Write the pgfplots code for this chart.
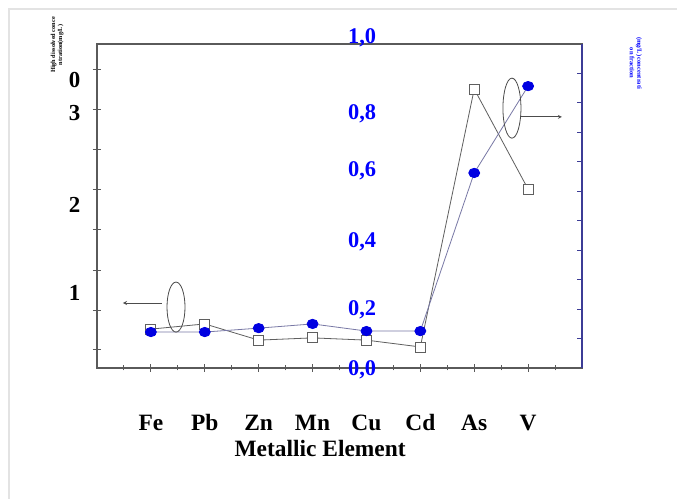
\documentclass[border=0pt]{standalone}
\usepackage{pgfplots}
\pgfplotsset{compat=1.18}
\usepackage{fontspec}
\setmainfont{Liberation Serif}
\definecolor{sqline}{RGB}{95,95,95}
\definecolor{cline}{RGB}{120,120,165}
\definecolor{spine}{RGB}{90,90,90}
\definecolor{rspine}{RGB}{60,60,150}
\definecolor{ptblue}{RGB}{0,0,225}
\definecolor{lblblue}{RGB}{0,0,255}
\tikzset{blbl/.style={text=lblblue, font=\fontsize{22.5}{22}\selectfont\bfseries}}
\begin{document}
\begin{tikzpicture}
\useasboundingbox (0,0) rectangle (677bp,499bp);
\fill[white] (0,0) rectangle (677bp,499bp);
\draw[gray!22, line width=2.5bp] (9bp,0) -- (9bp,490bp) -- (677bp,490bp);
\begin{axis}[
  at={(97bp,131bp)}, anchor=south west,
  scale only axis, width=485bp, height=324bp,
  xmin=0, xmax=9, ymin=0, ymax=1,
  axis line style={spine, line width=1.2bp},
  xtick={1,...,8},
  xticklabels={Fe,Pb,Zn,Mn,Cu,Cd,As,V},
  minor xtick={0.5,1.5,...,8.5},
  xtick pos=bottom,
  ytick={0.0556,0.179,0.302,0.426,0.550,0.673,0.797,0.920},
  yticklabels={},
  ytick pos=left,
  tick align=center,
  major tick length=8bp, minor tick length=5bp,
  tick style={spine, line width=1bp},
  xticklabel style={font=\fontsize{23.5}{22}\selectfont\bfseries, anchor=base, yshift=-59bp},
  clip=false,
]
\addplot[sqline, line width=0.8bp, mark=square*, mark size=5bp,
  mark options={fill=white, draw=sqline, line width=0.8bp, solid}] coordinates {
  (1,0.120) (2,0.136) (3,0.086) (4,0.093) (5,0.086) (6,0.065) (7,0.861) (8,0.552)
};
\node[anchor=east, font=\fontsize{23}{22}\selectfont\bfseries] at (rel axis cs:-0.027,0.889) {0};
\node[anchor=east, font=\fontsize{23}{22}\selectfont\bfseries] at (rel axis cs:-0.027,0.787) {3};
\node[anchor=east, font=\fontsize{23}{22}\selectfont\bfseries] at (rel axis cs:-0.027,0.503) {2};
\node[anchor=east, font=\fontsize{23}{22}\selectfont\bfseries] at (rel axis cs:-0.027,0.231) {1};
\node[rotate=90, align=center, inner sep=0pt, font=\fontsize{6.3}{7}\selectfont\bfseries] at (rel axis cs:-0.082,0.997) {High dissolved conce\\ntration(mg/L)};
\node[font=\fontsize{23.5}{22}\selectfont\bfseries] at (rel axis cs:0.46,-0.247) {Metallic Element};
\end{axis}
\begin{axis}[
  at={(97bp,131bp)}, anchor=south west,
  scale only axis, width=485bp, height=324bp,
  xmin=0, xmax=9, ymin=0, ymax=1,
  axis x line=none, axis y line*=right,
  axis line style={rspine, line width=1.2bp},
  ytick={0.0909,0.1818,0.2727,0.3636,0.4545,0.5454,0.6363,0.7272,0.8181,0.9090},
  yticklabels={},
  tick align=inside, major tick length=5bp,
  tick style={rspine, line width=1bp},
  clip=false,
]
\addplot[cline, line width=0.8bp, mark=*, mark size=5.5bp,
  mark options={fill=ptblue, draw=ptblue, solid, yscale=0.85}] coordinates {
  (1,0.111) (2,0.111) (3,0.123) (4,0.136) (5,0.114) (6,0.114) (7,0.602) (8,0.870)
};
\draw[gray!60!black, line width=0.8bp] (axis cs:1.466,0.188) ellipse [x radius=9bp, y radius=25bp];
\draw[gray!60!black, line width=0.8bp, -stealth] (axis cs:1.206,0.2006) -- (axis cs:0.482,0.2006);
\draw[gray!60!black, line width=0.8bp] (axis cs:7.70,0.802) ellipse [x radius=9bp, y radius=30bp];
\draw[gray!60!black, line width=0.8bp, -stealth] (axis cs:7.866,0.775) -- (axis cs:8.627,0.775);
\node[blbl] at (axis cs:4.92,1.02) {1,0};
\node[blbl] at (axis cs:4.92,0.784) {0,8};
\node[blbl] at (axis cs:4.92,0.608) {0,6};
\node[blbl] at (axis cs:4.92,0.389) {0,4};
\node[blbl] at (axis cs:4.92,0.18) {0,2};
\node[blbl] at (axis cs:4.92,-0.006) {0,0};
\node[rotate=-90, align=center, inner sep=0pt, text=lblblue, font=\fontsize{6.5}{7.5}\selectfont\bfseries] at (rel axis cs:1.111,0.941) {(mg/L) concentrati\\on fraction};
\end{axis}
\end{tikzpicture}
\end{document}
